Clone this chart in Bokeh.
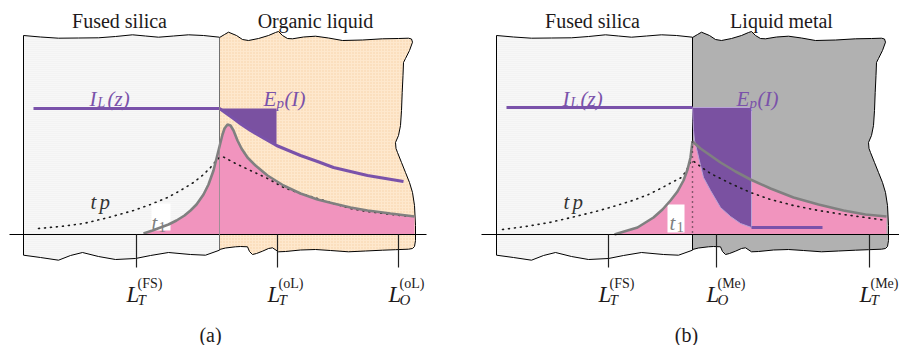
from bokeh.plotting import figure
from bokeh.models import Range1d
from bokeh.core.properties import value
from bokeh.embed import file_html
from bokeh.resources import INLINE

# ---------------------------------------------------------------------------
# Schematic geometry (screen-like units: x to the right, y downward).
# Panel (b) reuses the slab outlines of panel (a), shifted by PANEL_SHIFT.
# ---------------------------------------------------------------------------
PANEL_SHIFT = 473
AXIS_Y = 234
TICK_END = 267

# fused-silica slab outline (top edge left->right, bottom edge right->left)
fs_top_x = [23, 40, 58, 78, 98, 115, 132, 145, 158, 173, 188, 203, 219]
fs_top_y = [35, 36.5, 37.7, 37.5, 37.3, 36, 34.3, 35.5, 36.7, 35.5, 34.3, 35, 36.7]
fs_bot_x = [219, 205, 190, 168, 150, 135, 115, 98, 82, 70, 58, 40, 23]
fs_bot_y = [249.7, 254.7, 254, 252, 255, 258, 259, 256, 252, 255, 259.7, 257, 254.7]

# liquid slab outline (top, wavy right edge, bottom)
liq_x = [219, 224, 228, 236, 242, 248, 258, 268, 275, 278, 282, 287, 292, 303, 315,
         328, 342, 362, 382, 398, 408, 411, 412,
         409, 405, 403, 402.5, 401.7, 401, 400, 398, 395, 395.5, 397, 401, 405, 409,
         412, 414, 415, 415, 414, 412,
         408, 395, 382, 365, 348, 330, 315, 300, 285, 278, 272, 268, 262, 256, 252,
         249, 247, 240, 235, 225, 219]
liq_y = [37, 34, 31.7, 35, 39, 40, 38, 35, 32, 31, 35, 38, 38.3, 36.5, 35.7,
         37.5, 40, 39.5, 38.3, 38, 37.7, 38.5, 41.7,
         50, 58, 62, 75, 92, 110, 125, 135, 142, 148, 152, 162, 172, 182,
         192, 205, 225, 240, 246, 248,
         248.7, 249.2, 249.7, 250.5, 251.3, 250, 249, 249.5, 251, 251.3, 247.3, 248,
         250.7, 253, 254, 251, 246.3, 246, 246.3, 247.5, 249]

# axis extents and tick positions
axis_a = [9, 426]
axis_b = [481, 899]
ticks_a = [136, 277, 398]
ticks_b = [608, 716, 869]
tick_sub_a = ["T", "T", "O"]
tick_sup_a = ["(FS)", "(oL)", "(oL)"]
tick_sub_b = ["T", "O", "T"]
tick_sup_b = ["(FS)", "(Me)", "(Me)"]

# ---- panel (a): organic liquid ----
# temperature profile at t1 (grey curve)
t1_a_x = [143, 152, 160, 168, 176, 184, 190, 196, 203, 208, 213, 216, 219, 222, 224,
          227, 230, 233, 237, 241, 247, 255, 267, 283, 300, 317, 333, 350, 367, 390, 414]
t1_a_y = [233, 230, 227, 224, 220, 215, 210, 204, 194, 184, 170, 158, 146, 134, 128,
          124, 125, 130, 140, 148, 157, 165, 175, 185, 193, 199, 203, 207, 210, 213, 216]
# temperature profile at tp (dotted curve)
tp_a_x = [38, 60, 83, 108, 133, 150, 167, 180, 193, 203, 210, 215, 219, 222, 235,
          250, 267, 283, 300, 317, 333, 350, 367, 383, 400, 414]
tp_a_y = [228, 226, 223, 217, 210, 204, 197, 190, 182, 174, 167, 161, 157, 156, 163,
          170, 178, 187, 193, 198, 203, 208, 211, 213, 215, 216]
# laser intensity I_L(z)
il_a_x = [33, 219, 226, 233, 241, 250, 262, 276, 288, 300, 317, 333, 350, 367, 385, 403]
il_a_y = [108, 108, 113, 118, 124, 130, 137, 145, 150, 155, 161, 167, 171, 175, 178, 181]
ep_a_end = 276   # absorbed-energy block ends here

# ---- panel (b): liquid metal ----
t1_b_x = [614, 617, 627, 637, 645, 653, 662, 670, 677, 683, 687, 690, 692,
          700, 710, 720, 735, 750, 770, 793, 818, 843, 865, 886]
t1_b_y = [234, 233, 230, 227, 222, 217, 209, 200, 191, 180, 169, 157, 141,
          148, 155, 162, 171, 179, 188, 197, 204, 210, 214, 216]
tp_b_x = [502, 525, 549, 575, 599, 616, 632, 648, 662, 673, 681, 686, 689, 692,
          700, 710, 730, 750, 770, 793, 818, 843, 865, 886]
tp_b_y = [229, 226, 222, 216, 210, 205, 200, 194, 187, 181, 177, 170, 163, 160,
          166, 173, 183, 192, 199, 205, 210, 214, 217, 220]
il_b_x = [506, 692, 692.5, 693, 694, 697, 700, 703, 710, 720, 730, 740, 751, 822]
il_b_y = [107, 107, 120, 130, 140, 152, 165, 177, 190, 207, 216, 223, 227, 227]
ep_b_end = 751
interface_b = 692

# colours
PURPLE = "#7a52aa"
PURPLE_FILL = "#7a51a1"
PINK = "#f194be"
GREY = "#808080"
TEXT = "#1e1a1b"
SERIF = "Liberation Serif"

p = figure(width=899, height=345, x_range=Range1d(0, 899), y_range=Range1d(345, 0),
           output_backend="svg", toolbar_location=None, min_border=0,
           x_axis_location=None, y_axis_location=None)
p.grid.visible = False
p.outline_line_color = None
p.background_fill_color = "white"


def shifted(xs, dx):
    return [x + dx for x in xs]


def put(x, y, s, size, color=TEXT, style="normal", align="left"):
    p.text(x=[x], y=[y], text=[s], text_font=value(SERIF), text_font_size=size,
           text_color=color, text_font_style=style, text_align=align,
           text_baseline="alphabetic")


fs_x = fs_top_x + fs_bot_x
fs_y = fs_top_y + fs_bot_y

# ---- slabs ----
for dx in (0, PANEL_SHIFT):
    p.patch(shifted(fs_x, dx), fs_y, fill_color="#f7f7f7", line_color="black",
            line_width=1, hatch_pattern="horizontal_line", hatch_color="#e9e9e9",
            hatch_scale=2, hatch_weight=0.5)

p.patch(liq_x, liq_y, fill_color="#fee8cd", line_color="black", line_width=1,
        hatch_pattern="dot", hatch_color="#f8d2a6", hatch_scale=3, hatch_weight=0.6)
p.patch(shifted(liq_x, PANEL_SHIFT), liq_y, fill_color="#b1b1b1",
        line_color="black", line_width=1)


def draw_panel(t1x, t1y, tpx, tpy, ilx, ily, ep_end, axis, ticks, subs, sups,
               label_box, steep):
    # heated region below the t1 profile
    px = [t1x[0]] + t1x + [t1x[-1]]
    py = [AXIS_Y] + t1y + [AXIS_Y]
    p.patch(px, py, fill_color=PINK, line_color=None)

    # absorbed energy E_p(I): block between flat intensity and the decaying one
    k = max(i for i, x in enumerate(ilx) if x <= ep_end)
    ex = [ilx[1], ep_end, ep_end] + ilx[1:k + 1][::-1]
    ey = [ily[1], ily[1], ily[k]] + ily[1:k + 1][::-1]
    p.patch(ex, ey, fill_color=PURPLE_FILL, line_color="#b9a2d8" if steep else None,
            line_width=1)

    # intensity line
    if steep:
        p.line(ilx[:2], ily[:2], line_color=PURPLE, line_width=3)
        p.line(ilx[k:], ily[k:], line_color=PURPLE, line_width=3)
    else:
        p.line(ilx, ily, line_color=PURPLE, line_width=3)

    # tp profile
    p.line(tpx, tpy, line_color="#1a1a1a", line_width=1.6, line_dash="1 5",
           line_cap="round")

    # white backing for the t1 label
    bx0, bx1, by0, by1 = label_box
    p.quad(left=[bx0], right=[bx1], top=[by0], bottom=[by1], fill_color="white",
           line_color=None)

    # t1 profile
    p.line(t1x, t1y, line_color=GREY, line_width=2.6)

    # z axis with ticks
    p.line(axis, [AXIS_Y, AXIS_Y], line_color="black", line_width=1.2)
    for t in ticks:
        p.line([t, t], [AXIS_Y, TICK_END], line_color="#222222", line_width=1.2)
    for t, s, sp in zip(ticks, subs, sups):
        put(t - 10, 294, "L", "23px", style="italic")
        put(t + 1, 299, s, "15px", style="italic")
        put(t + 1, 283, sp, "14px")


draw_panel(t1_a_x, t1_a_y, tp_a_x, tp_a_y, il_a_x, il_a_y, ep_a_end, axis_a,
           ticks_a, tick_sub_a, tick_sup_a, (151, 170, 203, 230), False)
# interface between the two media in panel (a)
p.line([219, 219], [37, 249], line_color="#8c8c8c", line_width=1, line_alpha=0.8)

draw_panel(t1_b_x, t1_b_y, tp_b_x, tp_b_y, il_b_x, il_b_y, ep_b_end, axis_b,
           ticks_b, tick_sub_b, tick_sup_b, (667, 684, 204, 232), True)
p.line([interface_b, interface_b], [141, AXIS_Y], line_color="#1a1a1a",
       line_width=1.4, line_dash="1 4")

# ---- texts ----
for dx, right_title, tag in ((0, "Organic liquid", "(a)"),
                             (PANEL_SHIFT, "Liquid metal", "(b)")):
    put(119 + dx, 20, "Fused silica", "20px", align="center")
    put(315 + dx - (7 if dx else 0), 20, right_title, "20px", align="center")
    # I_L(z)
    put(89 + dx, 98, "I", "21px", PURPLE, "italic")
    put(97 + dx, 102, "L", "14px", PURPLE, "italic")
    put(107 + dx, 98, "(z)", "21px", PURPLE, "italic")
    # E_p(I)
    put(263 + dx, 98, "E", "21px", PURPLE, "italic")
    put(276 + dx, 102, "p", "15px", PURPLE, "italic")
    put(284 + dx, 98, "(I)", "21px", PURPLE, "italic")
    # tp
    put(90 + dx, 201, "t", "21px", "#333333", "italic")
    put(99 + dx, 201, "p", "21px", "#333333", "italic")
    # panel tag
    put(210 + dx + (3 if dx else 0), 334, tag, "20px", align="center")

# t1 labels
for x0 in (151, 669):
    put(x0, 222, "t", "21px", GREY, "italic")
    put(x0 + 7, 226, "1", "15px", GREY)

open("out.html", "w").write(file_html(p, INLINE))
